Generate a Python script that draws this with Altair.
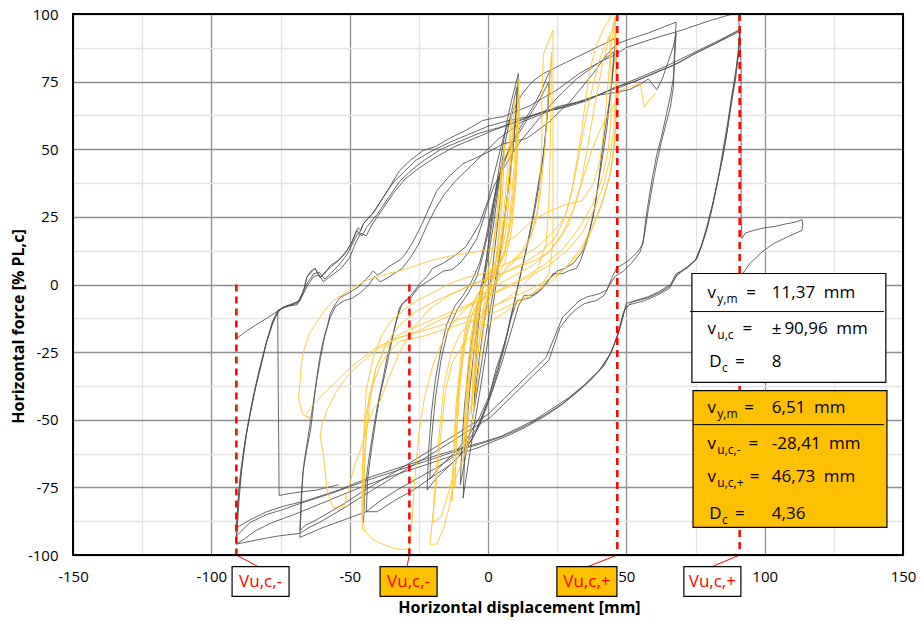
import altair as alt
import pandas as pd

# ---------------- data ----------------
X_TICKS = [-150, -125, -100, -75, -50, -25, 0, 25, 50, 75, 100, 125, 150]
Y_TICKS = [-100, -87.5, -75, -62.5, -50, -37.5, -25, -12.5, 0, 12.5, 25, 37.5, 50, 62.5, 75, 87.5, 100]

# ultimate displacements (dashed red markers)
VU_X = [-90.96, -28.41, 46.73, 90.96]
VU_TOP = [0, 0, 100, 100]
VU_LABEL = ["Vu,c,-", "Vu,c,-", "Vu,c,+", "Vu,c,+"]

# ---- specimen 1 (grey) hysteresis cycles ----
G_SMALL = [(-5,-45),(-4.5,-30),(-3.5,-15),(-2,-2),(0,10),(2,22),(3.5,34),(5,45),(4.5,32),(3,18),(1.5,5),(-0.5,-8),(-2.5,-22),(-4,-34),(-5,-45)]
G11A = [(-9,-79),(-8.5,-65),(-7.5,-50),(-6.5,-38),(-5,-24),(-3.5,-12),(-2,-2),(-0.5,10),(1,22),(2.5,33),(4,43),(5.5,52),(7,61),(8.5,68),(10,74),(11,78),(10.5,68),(9.5,55),(8.5,45),(7,33),(5.5,20),(4,8),(2.5,-3),(1,-14),(-1,-27),(-3,-40),(-5,-52),(-6.5,-62),(-8,-72),(-9,-79)]
G11B = [(-10,-74),(-9.5,-60),(-8.5,-45),(-7,-30),(-5.5,-18),(-3.5,-6),(-1.5,4),(0.5,16),(2.5,30),(4.5,42),(6.5,54),(8.5,64),(10,71),(10.5,73),(10,62),(9,50),(7.5,37),(6,24),(4,10),(2,-2),(0,-14),(-2,-27),(-4,-40),(-6,-52),(-8,-63),(-10,-74)]
G22A = [(-22,-76),(-21.5,-62),(-20.5,-48),(-19,-35),(-17,-24),(-15,-15),(-12,-8),(-9,-4),(-6,1),(-3,8),(-1,16),(1,26),(3,36),(5,44),(8,51),(11,57),(14,62),(17,67),(19.5,72),(21,76),(22.4,79),
        (22,70),(21,58),(20,48),(18,36),(16,24),(14,14),(12,5),(10,-4),(8,-13),(6,-23),(3,-34),(0,-44),(-3,-52),(-7,-59),(-11,-64),(-15,-68),(-19,-72),(-22,-76)]
G22B = [(-21,-72),(-20.5,-58),(-19,-42),(-17,-28),(-14.5,-17),(-11,-9),(-7,-3),(-4,3),(-2,10),(0,19),(2,30),(4,40),(7,48),(10,54),(13,59),(16,64),(19,69),(21,73),(22,75),
        (21.5,64),(20.5,52),(19,40),(17,28),(15,18),(13,9),(11,0),(9,-9),(6.5,-20),(3.5,-31),(0.5,-41),(-3,-49),(-7,-56),(-11,-61),(-15,-65),(-18,-68),(-21,-72)]
G46A = [(-45,-88),(-44.5,-76),(-43,-64),(-41.5,-54),(-40,-45),(-38,-35),(-36.5,-27),(-34,-17),(-32,-8.5),(-29,-5),(-27,-3),(-24.6,0.4),(-22,3),(-20,6),(-16,8),(-13,10),(-11,11.5),(-8,14),(-5,19),(-3,22.5),(-1.5,27),(0,31),(2,40),(4,48),(6,56),(9,64),(12,70),(16,75),(20,78),(23,79.5),(28,82),(34,85),(40,88),(46,91),
        (45.5,82),(44.5,72),(43,62),(41.6,52),(40.5,43),(39.4,34),(38,25),(35.8,16),(33.5,9),(32,6),(29,5),(27,4),(23.5,4),(21,0),(18,-3),(15,-5),(12.5,-5.5),(10.5,-6),(8.5,-12),(7,-18),(5,-25),(3,-31),(1.5,-37),(0,-43),(-2.5,-50),(-5,-56),(-9,-62),(-14,-67),(-20,-71),(-27,-76),(-34,-80),(-40,-84),(-44,-84)]
G46B = [(-44,-84),(-43.5,-72),(-42,-60),(-40.5,-50),(-39,-41),(-37,-32),(-35,-22),(-33,-13),(-31,-7),(-28,-5),(-25,-1),(-22,1),(-19,3),(-16,5),(-13,5.5),(-10,8),(-7,12),(-4,17),(-2,23),(0,30),(2,36),(5,42),(8,47),(11,52),(15,57),(19,62),(24,68),(28,72),(32,76),(36,79),(40,82),(43,84),(45.5,86),
        (45,78),(44,68),(43,58),(41.5,48),(40,38),(38.5,28),(36.5,19),(34,12),(31,8),(28,6),(25,5),(22,2),(19,-2),(16,-4),(13,-4),(11,-8),(9,-15),(7,-22),(5,-29),(3,-35),(1,-41),(-1.5,-47),(-4,-53),(-8,-59),(-13,-64),(-19,-68),(-26,-72),(-33,-76),(-39,-80),(-44,-84),(-52,-87),(-60,-90),(-68,-93.5)]
G68A = [(-68,-93.5),(-67.5,-82),(-67,-70),(-65.5,-61),(-64,-53),(-63,-44),(-62,-35.5),(-61,-28),(-59.6,-21),(-58,-15),(-57,-10.7),(-55,-7),(-53.5,-4.8),(-50,-3),(-47,-1),(-44,2),(-41.5,5),(-40,3.5),(-39,4),(-36,6.5),(-32,9),(-30,11),(-27,16),(-24,22),(-21,29),(-18.5,34.7),(-14,40),(-9,44.7),(-5,46.5),(-1.8,48),(2,50),(5.4,52),(10,53),(14,54),(22,60),(30,68),(38,78),(43,85),(46.6,89),(52,91),(58,93),(63,95),(68,97),
        (67.5,88),(67,76.5),(66,70),(64.7,64),(63,56),(61,48),(59.5,40),(58.5,34),(57,24),(56,15),(54,12),(51,9),(48,7),(46.6,6.3),(45,3),(43,-2),(40,-3.5),(36,-4.5),(33,-6),(30,-9),(27,-12),(25,-17),(23,-22),(21,-27),(18,-30),(15,-33),(12,-36),(9,-39),(6,-42),(3,-45),(0,-48),(-3,-50),(-8,-53),(-14,-57),(-22,-62),(-30,-67),(-38,-72),(-46,-77),(-52,-81),(-57,-84),(-62,-87),(-66,-89),(-68,-91)]
G68B = [(-68,-91),(-67.5,-78),(-66.5,-66),(-65,-56),(-63.5,-46),(-62,-36),(-60.5,-27),(-59,-19),(-57,-12),(-55,-8),(-52,-6),(-49,-5),(-46,-3),(-43,0),(-41,3),(-39,1),(-37,2),(-34,4),(-31,6),(-28,10),(-25,15),(-22,22),(-19,28),(-16,33),(-12,38),(-8,42),(-4,46),(0,50),(4,54),(8,57),(12,60),(17,62),(22,64),(28,66),(34,68),(40,70),(46,71),(51,72),(55,74),(58,76),(61,72),(63,76),(65,82),(67,88),(68,93),
        (67.5,84),(67,73),(66,66),(64.5,60),(62.5,52),(61,45),(59.5,37),(58,28),(56.5,18),(55,12),(52,8),(49,5),(46,3),(44,0),(42,-4),(39,-6),(35,-7),(32,-9),(29,-12),(26,-16),(24,-22),(22,-28),(19,-31),(16,-34),(13,-37),(10,-40),(7,-43),(4,-46),(1,-49),(-2,-51),(-7,-54),(-13,-58),(-21,-63),(-29,-68),(-37,-73),(-45,-78),(-51,-82),(-56,-85),(-61,-88),(-65,-90),(-68,-92),(-76,-93),(-84,-94.5),(-91,-96)]
G91C = [(-91,-96),(-90,-80),(-89,-68),(-87.5,-56),(-86,-48),(-84,-38),(-82,-29),(-80,-21),(-78,-14),(-76,-9.6),(-74,-8.4),(-71,-7.5),(-68,-6),(-66.5,-2),(-65.5,2.6),(-63.5,5),(-62.5,6),(-60.7,2.6),(-59,4),(-57,7),(-54,9),(-51,12.6),(-49,16),(-47,21),(-46,20),(-45,22.5),(-41,27),(-38,32),(-35,37),(-32,42),(-28,46),(-23.5,49.5),(-19,51),(-14,54),(-8,57),(-2,60.6),(2,61.5),(5.4,62),(15,66),(25,72),(33,78),(40,82),(46,85),(50,87.6),(60,91),(70,94),(80,97.5),(85,99),(88.5,100),(90.5,100),
        (91,92),(90.5,85),(89,75),(88,68),(86.5,57),(85,48),(83,38),(81,28),(79,20),(77,14),(75,9),(72,6),(68,4),(66,0),(62,-2.5),(58,-4.5),(53,-6),(50,-7),(48.5,-13),(46.5,-20),(44,-26),(40,-32),(35,-37),(29,-42),(23,-46),(17,-50),(11,-53),(5,-56),(-1,-58),(-8,-60),(-18,-63),(-30,-67),(-42,-71),(-54,-76),(-66,-80),(-74,-82),(-80,-84),(-86,-87),(-91,-90)]
G91A = [(-91,-90),(-90,-76),(-88.5,-64),(-87,-53),(-85,-42),(-83,-33),(-80.5,-23),(-78,-15),(-76,-10),(-73,-8),(-69,-7),(-67,-3),(-65,1),(-63,4),(-61,4.5),(-59,2),(-57,4),(-54,7),(-51,11),(-48.5,16),(-47,19),(-45.5,18),(-44,21),(-40,26),(-36,32),(-32,38),(-28,42),(-23,46),(-17,50),(-10,53),(-3,56),(4,58),(12,61),(20,64),(28,66),(35,68),(42,71),(48,73),(55,76),(62,79),(69,82),(76,86),(82,89),(87,92),(90.5,94),(91,95),
        (90.5,87),(89.5,78),(88,69),(86.5,59),(85,50),(83.5,41),(81.5,31),(79.5,22),(77.5,15),(75.5,9.5),(72,6.5),(68.5,4),(66,-0.5),(62,-3),(57.5,-5),(52,-6.5),(49.5,-9),(47.5,-17),(45,-24),(42,-30),(38,-34),(33,-39),(27,-44),(21,-48),(15,-51.5),(9,-54.5),(3,-57),(-3,-59),(-10,-61),(-20,-64.5),(-32,-68.5),(-44,-72.5),(-56,-77),(-68,-81),(-75,-83.5),(-80,-85),(-86,-88),(-91,-93)]
G91B = [(-91,-93),(-90.5,-82),(-89.5,-70),(-88,-59),(-86,-48),(-84,-38),(-82,-30),(-80,-21),(-77.5,-13),(-75,-9),(-72,-8),(-69,-7.5),(-67,-4),(-65,0),(-63,3),(-61,3.5),(-59.5,1),(-57,3),(-53,6),(-50,10),(-48,15),(-46,19),(-44,18),(-42,22),(-38,28),(-34,34),(-30,39),(-25,43),(-19,47),(-12,51),(-5,54),(2,57),(10,60),(18,63),(26,66),(33,67.5),(40,70),(46,73),(53,75),(60,78),(67,81),(74,85),(80,88),(86,91),(90,93),(91,93.5),
        (90.5,85),(89.5,76),(88,67),(86.5,57),(85,48),(83,38),(81,29),(79,21),(77,14),(75,9),(71.5,6),(68,3),(65.5,-1.5),(61,-4),(56.5,-6),(51,-7.5),(49,-10),(47,-18),(44.5,-25),(41,-31),(37,-35.5),(32,-40),(26,-45),(20,-49),(14,-52.5),(8,-55.5),(2,-58),(-4,-60.5),(-12,-63),(-22,-66.5),(-34,-70.5),(-46,-75),(-58,-80),(-70,-85),(-78,-88),(-84,-91),(-88,-94),(-91,-96)]
G_FINAL = [(-91,-20),(-87,-17),(-84,-15),(-80,-12.5),(-77,-10.5),(-74,-8.4),(-71,-7.2),(-68,-6),(-66.5,-1.5),(-65.5,2.6),(-64,5),(-62.5,6),(-60.7,2.6),(-58.5,5),(-55,8),(-52,11),(-49.5,15),(-47.5,20),(-46.5,19),(-45,22.5),(-42,26),(-38,32),(-34,38),(-30,42),(-26,46),(-20,49.5),(-14,52.5),(-7,55.5),(0,58.5),(7,60.5),(14,62),(21,64),(28,65.5),(36,68),(43,71.5),(50,74.5),(57,77.5),(64,80.5),(71,84),(78,87.5),(84,90.5),(88,92.5),(91,94),
           (91.5,80),(91.5,60),(91.5,40),(91.5,25),(91.8,17),(93,19),(96,20),(100,21),(104,21.5),(108,22.5),(111,23),(113.5,24),(113.8,22),(113.5,20),(108,17.5),(103,15),(99,12),(94.7,7.8),(92,4),(88,1),(84,-2)]
G_DROP = [(-76,-10),(-75.8,-40),(-75.5,-78),(-73,-77.5),(-70,-77),(-66,-76.5),(-62,-76),(-58,-75),(-54,-74)]

# ---- specimen 2 (yellow) hysteresis cycles ----
Y5A = [(-5,-40),(-4.5,-25),(-3.5,-12),(-2,-3),(0,4),(1.5,12),(3,24),(4.2,36),(5,46),(4.6,32),(3.8,18),(2.5,6),(0.5,-3),(-1.5,-10),(-3,-20),(-4.2,-30),(-5,-40)]
Y5B = [(-6,-48),(-5.5,-32),(-4.5,-18),(-3,-6),(-1,2),(1,9),(2.5,18),(4,30),(5.3,42),(6,52),(5.5,38),(4.5,22),(3,9),(1,0),(-1.5,-8),(-3.5,-18),(-5,-32),(-6,-48)]
Y8A = [(-8,-62),(-7.5,-45),(-6.5,-28),(-5,-14),(-3,-4),(0,3),(3,9),(5,20),(6.5,35),(7.5,50),(8.5,64),(8,48),(7,32),(5.5,18),(3,6),(0,-2),(-3,-8),(-5,-18),(-6.5,-32),(-7.5,-48),(-8,-62)]
Y8B = [(-9,-66),(-8.5,-50),(-7.5,-33),(-6,-18),(-4,-7),(-1,1),(2,6),(4.5,14),(6.5,28),(8,44),(9,58),(9.5,68),(9,52),(8,36),(6.5,20),(4,8),(1,0),(-2,-6),(-4.5,-14),(-6.5,-28),(-8,-46),(-9,-66)]
Y11A = [(-12,-75),(-11.5,-56),(-10.5,-38),(-9,-24),(-7,-12),(-4,-4),(0,2),(4,7),(6.5,14),(8,26),(9.5,44),(10.5,62),(11.2,76),(10.8,58),(10,40),(8.5,24),(6,11),(2,2),(-2,-4),(-5.5,-10),(-8,-20),(-10,-36),(-11.3,-55),(-12,-75)]
Y11B = [(-13,-80),(-12.5,-62),(-11.5,-44),(-10,-28),(-8,-15),(-5,-6),(-1,1),(3,6),(6,12),(8,22),(9.5,38),(10.5,55),(11.5,70),(11,54),(10,36),(8.5,20),(6,8),(2,0),(-2,-5),(-6,-12),(-9,-24),(-11,-42),(-12.3,-60),(-13,-80)]
Y23A = [(-21,-96),(-18.5,-96),(-16,-90),(-14,-82),(-12.6,-74),(-10,-67),(-7.6,-61),(-5.4,-49),(-4,-37),(-2.5,-24),(-1,-12),(1,-3),(4,3),(8,8),(12,12),(15.5,18),(18,28),(19,40),(19.5,55),(19.5,70),(20,85),(23.5,94),
        (23.5,75),(23.5,55),(23.5,35),(23.5,15),(22,4),(19,-1),(14,-5),(8,-9),(2,-13),(-4,-17),(-9,-22),(-13,-29),(-15.5,-40),(-17,-55),(-18.5,-72),(-20,-86),(-21,-96)]
Y23B = [(-20,-88),(-17,-86),(-14,-76),(-11,-64),(-8,-55),(-6,-44),(-4.5,-32),(-3,-20),(-1,-9),(2,-1),(6,5),(10,9),(14,14),(17,22),(19,34),(20.5,50),(21.5,66),(22.5,80),(23,86),
        (22.8,70),(22.5,50),(22,30),(21,15),(18,6),(13,0),(7,-5),(1,-9),(-5,-13),(-10,-18),(-13.5,-26),(-16,-38),(-17.5,-54),(-19,-72),(-20,-88)]
Y46C = [(-45,-85),(-44.8,-70),(-44.3,-55),(-43,-42),(-40.5,-31),(-37,-22),(-32,-15),(-26,-10),(-19,-6),(-11,-2.5),(-3,1),(5,4),(13,8),(19,12),(24,17),(27.5,24),(30,33),(32,43),(34,54),(36,65),(38,74),(40,82),(42,88),(44,92),
        (44.5,78),(44.5,62),(43.5,50),(41.5,40),(38,30),(33,21),(27,13),(20,7),(12,2),(4,-2),(-4,-6),(-12,-9.5),(-20,-13),(-27,-16),(-33,-19),(-37.5,-24),(-40.5,-31),(-42.5,-42),(-44,-56),(-44.8,-72),(-45,-85)]
Y46B = [(-56,-82.4),(-52,-82),(-50,-74),(-48,-66),(-46,-61),(-44,-53),(-41.5,-46),(-39,-43),(-36,-35),(-32,-25),(-27,-16),(-21,-9),(-14,-4),(-6,0),(2,3),(10,6),(17,9),(22,12),(26,17),(29,22),(31,28),(33.5,37),(35.5,48),(37,57),(38.5,66),(40,74),(41.5,82),(43,88),(44.5,93),(45.5,97),
        (46,85),(46,70),(45.5,58),(44,46),(41.5,36),(38,27),(34,19),(29,13),(22,7),(15,3),(7,-1),(-1,-5),(-9,-9),(-17,-13),(-25,-17),(-33,-20),(-40,-24),(-46,-29),(-51,-34),(-55,-40),(-58,-46),(-60,-52),(-60.7,-56),(-59.6,-62.5),(-58,-77),(-56,-82.4)]
Y67 = [(46,99),(46.5,75),(46,55),(44.5,42),(42,33),(40.5,28),(37,19),(34,12.6),(28,6),(22,2),(13,-3),(4,-7),(-5,-11),(-13.7,-14),(-23,-17),(-32,-19.5),(-40,-23),(-44,-26),(-50,-31),(-56,-37),(-60,-41),(-64,-45.5),(-66,-48.5),(-64,-49.6),
       (-67,-48),(-68.5,-42),(-68,-37),(-67.5,-30),(-66.5,-24),(-64.5,-18),(-62,-14),(-59,-9.5),(-56,-6),(-50,-2),(-44,1.5),(-38,3.5),(-32,5),(-26,7),(-20,9),(-14,10.5),(-7.6,11.5),(-2,12.5),(4,14),(10,18),(16,23.6),(22,27),(28,29.5),(34,31),(38,37),(40.5,46),(42,58),(43,70),(44,82),(45,92),(45.8,99)]
Y46A = [(-45.5,-91),(-45.5,-75),(-45,-58),(-44,-39),(-41.5,-27),(-38.5,-19),(-35.4,-14),(-30,-9),(-25.7,-6),(-20,-3),(-13.7,0.4),(-8,2.5),(-2,4),(5,7),(12,10),(18,14),(23,19),(26.5,23),(28.5,27),(30.5,36),(32,45),(34,58),(35.5,70),(37,80),(39,88),(42,95),(45,100),(46,100),
        (46.5,80),(46.3,62),(45.5,50),(44,40),(41.5,31),(38,22),(34,14),(28,6),(22,0.4),(14,-4.5),(4,-9.6),(-5,-13),(-14,-16),(-23,-19),(-32,-21),(-36,-25),(-39,-30),(-42.6,-40),(-44.5,-50),(-45,-58),(-45.5,-75),(-45.5,-86),(-44.5,-91),(-42,-94),(-38,-96),(-34,-97.5),(-30.5,-98),(-28.5,-97.5)]
Y_FINAL = [(-28.5,-97.5),(-27.5,-88),(-26.5,-72),(-25,-55),(-23,-42),(-20,-30),(-16,-20),(-11,-12),(-5,-6),(2,-1),(9,3),(16,7),(22,12),(27,19),(31,28),(34,38),(37,48),(40,56),(43,62),(45.5,66),(47.7,71.7),(51,73),(55,74.3),(55.8,70),(56.5,65.4),(57.5,67.5),(59,69),(60.5,70.5)]

GREY_CYCLES = {"g_small": G_SMALL, "g11a": G11A, "g11b": G11B, "g22a": G22A, "g22b": G22B,
               "g46a": G46A, "g46b": G46B, "g68a": G68A, "g68b": G68B, "g91c": G91C,
               "g91a": G91A, "g91b": G91B, "g_final": G_FINAL, "g_drop": G_DROP}
YELLOW_CYCLES = {"y5a": Y5A, "y5b": Y5B, "y8a": Y8A, "y8b": Y8B, "y11a": Y11A, "y11b": Y11B,
                 "y23a": Y23A, "y23b": Y23B, "y46c": Y46C, "y46b": Y46B, "y67": Y67,
                 "y46a": Y46A, "y_final": Y_FINAL}

# summary values shown in the two boxes
BOX1_ROWS = [("v", "y,m", "11,37\u2002mm"), ("v", "u,c", "\u00b1\u200990,96\u2002mm"), ("D", "c", "8")]
BOX2_ROWS = [("v", "y,m", "6,51\u2002mm"), ("v", "u,c,-", "-28,41\u2002mm"), ("v", "u,c,+", "46,73\u2002mm"), ("D", "c", "4,36")]

# ---------------- tables ----------------
def to_frame(cycles):
    rows = []
    for name, pts in cycles.items():
        for i, (x, y) in enumerate(pts):
            rows.append({"loop": name, "i": i, "x": x, "y": y})
    return pd.DataFrame(rows)

grey_df = to_frame(GREY_CYCLES)
yellow_df = to_frame(YELLOW_CYCLES)

vu_df = pd.DataFrame({"x": VU_X, "top": VU_TOP, "bottom": [-100] * 4,
                      "cx": [-83.1, -29.3, 36.1, 81.0], "cy": [-104.3] * 4})

# annotation layout (positions in data units)
boxes_df = pd.DataFrame({
    "x1": [73.7, 74.1, -92.5, -39.0, 24.9, 70.8],
    "x2": [143.8, 144.2, -71.9, -18.4, 46.6, 91.4],
    "y1": [4.07, -39.2, -104.3, -104.3, -104.3, -104.3],
    "y2": [-36.2, -89.8, -115.3, -115.3, -115.3, -115.3],
    "fill": ["white", "#FFC000", "white", "#FFC000", "#FFC000", "white"],
})
sep_df = pd.DataFrame({"x1": [73.0, 74.1], "x2": [143.1, 143.1], "y": [-10.0, -51.8]})
frame_df = pd.DataFrame({"x1": [-150], "x2": [150], "y1": [-100], "y2": [100]})

row_y1 = [-3.0, -16.3, -28.8]
row_y2 = [-45.5, -58.8, -71.3, -84.7]
eq_x1 = [93.3, 92.0, 89.3]
eq_x2 = [92.6, 94.2, 94.6, 89.3]
main_rows, sub_rows = [], []
for (sym, sub, val), yy, ex in list(zip(BOX1_ROWS, row_y1, eq_x1)) + list(zip(BOX2_ROWS, row_y2, eq_x2)):
    sx = 79.3 if sym == "v" else 80.0
    main_rows += [{"x": sx, "y": yy, "t": sym}, {"x": ex, "y": yy, "t": "="}, {"x": 102.6, "y": yy, "t": val}]
    sub_rows.append({"x": sx + (3.6 if sym == "v" else 4.6), "y": yy, "t": sub})
main_df = pd.DataFrame(main_rows)
sub_df = pd.DataFrame(sub_rows)
red_df = pd.DataFrame({"x": [-82.2, -28.7, 35.75, 81.1], "y": [-109.8] * 4, "t": VU_LABEL})

# ---------------- chart ----------------
XS = alt.Scale(domain=[-150, 150], nice=False, zero=False)
YS = alt.Scale(domain=[-100, 100], nice=False, zero=False)
grid_color = {"condition": {"test": "datum.value % 50 === 0", "value": "#8f8f8f"}, "value": "#e4e4e4"}
grid_color_y = {"condition": {"test": "datum.value % 25 === 0", "value": "#8f8f8f"}, "value": "#e4e4e4"}
XAX = alt.Axis(values=X_TICKS, labelExpr="datum.value % 50 === 0 ? '' + datum.value : ''",
               title="Horizontal displacement [mm]", grid=True, gridColor=grid_color, gridWidth=1.3,
               ticks=False, domain=False, labelPadding=14, labelFlush=False, labelOverlap=False,
               labelFontSize=15, labelFont="Open Sans", labelColor="black",
               titleFont="Open Sans", titleFontSize=16, titleFontWeight="bold", titleColor="black",
               titleX=446, titleY=52, titleAlign="center", titleBaseline="middle")
YAX = alt.Axis(values=Y_TICKS, labelExpr="datum.value % 25 === 0 ? '' + datum.value : ''",
               title="Horizontal force [% PL,c]", grid=True, gridColor=grid_color_y, gridWidth=1.3,
               ticks=False, domain=False, labelPadding=15, labelFlush=False, labelOverlap=False,
               labelFontSize=15, labelFont="Open Sans", labelColor="black",
               titleFont="Open Sans", titleFontSize=16, titleFontWeight="bold", titleColor="black",
               titleX=-55, titleY=312, titleAngle=270, titleAlign="center", titleBaseline="middle")


def X(f):
    return alt.X(f, type="quantitative", scale=XS, axis=XAX)


def Y(f):
    return alt.Y(f, type="quantitative", scale=YS, axis=YAX)


grey = alt.Chart(grey_df).mark_line(color="#4d4d4d", strokeWidth=1, opacity=0.85).encode(
    x=X("x"), y=Y("y"), detail="loop:N", order="i:Q")
yellow = alt.Chart(yellow_df).mark_line(color="#FFC52E", strokeWidth=1, opacity=0.9).encode(
    x=X("x"), y=Y("y"), detail="loop:N", order="i:Q")
dashed = alt.Chart(vu_df).mark_rule(color="#FF0000", strokeWidth=2.5, strokeDash=[7, 5]).encode(
    x=X("x"), y=Y("top"), y2="bottom")
connectors = alt.Chart(vu_df).mark_rule(color="#FF0000", strokeWidth=1).encode(
    x=X("x"), y=Y("bottom"), x2="cx", y2="cy")
boxes = alt.Chart(boxes_df).mark_rect(stroke="black", strokeWidth=1.2).encode(
    x=X("x1"), x2="x2", y=Y("y1"), y2="y2", fill=alt.Fill("fill:N", scale=None))
seps = alt.Chart(sep_df).mark_rule(color="black", strokeWidth=1).encode(x=X("x1"), x2="x2", y=Y("y"))
frame = alt.Chart(frame_df).mark_rect(fillOpacity=0, stroke="black", strokeWidth=2).encode(
    x=X("x1"), x2="x2", y=Y("y1"), y2="y2")
main_txt = alt.Chart(main_df).mark_text(align="left", baseline="middle", font="Open Sans",
                                        fontSize=17, color="black").encode(x=X("x"), y=Y("y"), text="t:N")
sub_txt = alt.Chart(sub_df).mark_text(align="left", baseline="middle", font="Open Sans",
                                      fontSize=12, dy=6, color="black").encode(x=X("x"), y=Y("y"), text="t:N")
red_txt = alt.Chart(red_df).mark_text(align="center", baseline="middle", font="Open Sans",
                                      fontSize=17, color="#FF0000").encode(x=X("x"), y=Y("y"), text="t:N")

chart = alt.layer(grey, yellow, dashed, connectors, boxes, seps, frame, main_txt, sub_txt, red_txt).properties(
    width=830, height=541,
    autosize=alt.AutoSizeParams(type="none"),
    padding={"left": 65, "top": 6, "right": 13, "bottom": 63},
    background="white",
).configure_view(stroke=None)

chart.save("out.html", embed_options={"renderer": "svg", "actions": False})
